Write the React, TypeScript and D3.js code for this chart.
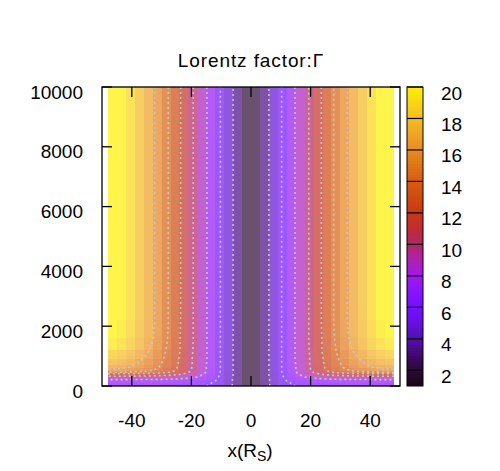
import React from 'react';
import * as d3 from 'd3';

// grid columns (x in R_S), half grid; the field is symmetric about x = 0
const X_HALF = [0, 3, 6, 9, 12, 15, 18, 21, 24, 27, 30, 33, 36, 39, 42, 45, 48];
// grid rows (height)
const Y_ROWS = [0, 100, 200, 300, 400, 450, 500, 600, 700, 900, 1200, 1600, 2200, 10000];
// Lorentz factor at each (row, half-column)
const GAMMA_ROWS = [
  [1.2, 2.6, 3.9, 4.9, 5.6, 6.0, 6.3, 6.4, 6.5, 6.5, 6.5, 6.6, 6.6, 6.6, 6.6, 6.6, 6.6],
  [1.2, 2.6, 3.9, 5.0, 5.8, 6.3, 6.6, 6.7, 6.8, 6.9, 6.9, 6.9, 7.0, 7.0, 7.0, 7.0, 7.0],
  [1.2, 2.6, 3.9, 5.1, 6.1, 6.7, 7.1, 7.3, 7.5, 7.6, 7.7, 7.7, 7.7, 7.7, 7.8, 7.8, 7.8],
  [1.2, 2.6, 4.0, 5.3, 6.4, 7.3, 8.0, 8.4, 8.8, 9.0, 9.1, 9.2, 9.3, 9.3, 9.4, 9.4, 9.4],
  [1.2, 2.6, 4.0, 5.35, 6.6, 7.7, 8.7, 9.5, 10.2, 10.7, 11.0, 11.25, 11.4, 11.5, 11.6, 11.7, 11.7],
  [1.2, 2.6, 4.0, 5.4, 6.7, 7.9, 9.0, 10.0, 11.0, 11.8, 12.4, 12.8, 13.1, 13.4, 13.6, 13.7, 13.8],
  [1.2, 2.6, 4.0, 5.4, 6.8, 8.0, 9.2, 10.3, 11.4, 12.4, 13.1, 13.8, 14.2, 14.6, 14.9, 15.1, 15.2],
  [1.2, 2.6, 4.0, 5.4, 6.8, 8.0, 9.3, 10.4, 11.7, 12.8, 13.7, 14.5, 15.1, 15.6, 16.0, 16.3, 16.4],
  [1.2, 2.6, 4.0, 5.4, 6.8, 8.0, 9.3, 10.5, 11.8, 13.0, 13.9, 14.8, 15.4, 16.0, 16.5, 16.8, 17.0],
  [1.2, 2.6, 4.0, 5.4, 6.8, 8.1, 9.3, 10.5, 11.9, 13.2, 14.2, 15.2, 15.9, 16.6, 17.2, 17.6, 17.9],
  [1.2, 2.6, 4.0, 5.4, 6.8, 8.1, 9.4, 10.6, 12.1, 13.5, 14.5, 15.7, 16.6, 17.5, 18.3, 18.9, 19.2],
  [1.2, 2.6, 4.0, 5.4, 6.8, 8.1, 9.4, 10.7, 12.1, 13.6, 14.8, 16.1, 17.1, 18.1, 19.0, 19.8, 20.2],
  [1.2, 2.6, 4.0, 5.4, 6.8, 8.1, 9.4, 10.7, 12.2, 13.7, 14.9, 16.3, 17.3, 18.4, 19.5, 20.4, 20.8],
  [1.2, 2.6, 4.0, 5.4, 6.8, 8.1, 9.4, 10.7, 12.2, 13.7, 14.9, 16.3, 17.4, 18.5, 19.6, 20.5, 21.0],
];
const CONTOUR_LEVELS = [4, 6, 8, 10, 12, 14, 16];
const X_TICKS = [-40, -20, 0, 20, 40];
const Y_TICKS = [0, 2000, 4000, 6000, 8000, 10000];
const CB_TICKS = [2, 4, 6, 8, 10, 12, 14, 16, 18, 20];
const PALETTE_STOPS = [1, 2, 3, 4, 5, 6, 7, 8, 9, 10, 11, 12, 13, 14, 15, 16, 17, 18, 19, 20];
const PALETTE_COLORS = [
  '#1a0514', '#2e0838', '#420870', '#560eb0', '#6610e0', '#7410ff', '#8a14ff', '#a01ae8',
  '#b020b0', '#b82468', '#c02c30', '#c83818', '#d04a10', '#d85c10', '#e07418', '#e88c20',
  '#f0a424', '#f5bc20', '#fad614', '#fff000',
];

const FONT = 'Liberation Sans, Arial, Helvetica, sans-serif';

const xs = [...X_HALF.slice(1).reverse().map((v) => -v), ...X_HALF];
const grid = GAMMA_ROWS.map((r) => [...r.slice(1).reverse(), ...r]);

function contourSegments(level: number) {
  const segs: number[][][] = [];
  for (let j = 0; j < Y_ROWS.length - 1; j++) {
    for (let i = 0; i < xs.length - 1; i++) {
      const c = [
        [xs[i], Y_ROWS[j], grid[j][i]],
        [xs[i + 1], Y_ROWS[j], grid[j][i + 1]],
        [xs[i + 1], Y_ROWS[j + 1], grid[j + 1][i + 1]],
        [xs[i], Y_ROWS[j + 1], grid[j + 1][i]],
      ];
      const pts: number[][] = [];
      for (let k = 0; k < 4; k++) {
        const a = c[k];
        const b = c[(k + 1) % 4];
        if ((a[2] >= level) !== (b[2] >= level)) {
          const t = (level - a[2]) / (b[2] - a[2]);
          pts.push([a[0] + t * (b[0] - a[0]), a[1] + t * (b[1] - a[1])]);
        }
      }
      if (pts.length === 2) segs.push([pts[0], pts[1]]);
      else if (pts.length === 4) {
        segs.push([pts[0], pts[1]]);
        segs.push([pts[2], pts[3]]);
      }
    }
  }
  return segs;
}

function chain(segs: number[][][]) {
  const used = new Array(segs.length).fill(false);
  const key = (p: number[]) => p[0].toFixed(4) + ',' + p[1].toFixed(4);
  const map = new Map<string, number[]>();
  segs.forEach((s, i) => {
    for (const p of s) {
      const k = key(p);
      if (!map.has(k)) map.set(k, []);
      map.get(k)!.push(i);
    }
  });
  const lines: number[][][] = [];
  for (let i = 0; i < segs.length; i++) {
    if (used[i]) continue;
    used[i] = true;
    const line = [segs[i][0], segs[i][1]];
    for (const dir of [0, 1]) {
      while (true) {
        const end = dir === 0 ? line[line.length - 1] : line[0];
        const cand = (map.get(key(end)) || []).find((k) => !used[k]);
        if (cand === undefined) break;
        used[cand] = true;
        const s = segs[cand];
        const next = key(s[0]) === key(end) ? s[1] : s[0];
        if (dir === 0) line.push(next);
        else line.unshift(next);
      }
    }
    lines.push(line);
  }
  return lines;
}

export default function App() {
  const x = d3.scaleLinear().domain([-50, 50]).range([102, 400]);
  const y = d3.scaleLinear().domain([0, 10000]).range([386, 87]);
  const cbY = d3.scaleLinear().domain([1, 20]).range([386, 87]);
  const color = d3
    .scaleLinear<string>()
    .domain(PALETTE_STOPS)
    .range(PALETTE_COLORS)
    .interpolate(d3.interpolateRgb)
    .clamp(true);

  const cells: JSX.Element[] = [];
  for (let j = 0; j < Y_ROWS.length - 1; j++) {
    for (let i = 0; i < xs.length - 1; i++) {
      const v = (grid[j][i] + grid[j][i + 1] + grid[j + 1][i] + grid[j + 1][i + 1]) / 4;
      const x0 = Math.round(x(xs[i]));
      const x1 = Math.round(x(xs[i + 1]));
      const y0 = Math.round(y(Y_ROWS[j + 1]));
      const y1 = Math.round(y(Y_ROWS[j]));
      cells.push(
        <rect key={`${i}-${j}`} x={x0} y={y0} width={x1 - x0} height={y1 - y0} fill={color(v)} />
      );
    }
  }

  const line = d3
    .line<number[]>()
    .x((p) => x(p[0]))
    .y((p) => y(p[1]));
  const contourPaths = CONTOUR_LEVELS.flatMap((L) =>
    chain(contourSegments(L)).map((ln, k) => (
      <path key={`${L}-${k}`} d={line(ln) || ''} fill="none" stroke="#c9c9c2" strokeWidth={1.6} strokeDasharray="2 3" />
    ))
  );

  const cbSteps = d3.range(1, 20, 0.1);
  const cbX = 407;
  const cbW = 16;

  return (
    <svg width={500} height={471} style={{ position: 'absolute', left: 0, top: 0, background: '#fff' }} fontFamily={FONT}>
      <rect x={0} y={0} width={500} height={471} fill="#fff" />
      <text x={251} y={67} textAnchor="middle" fontSize={19} letterSpacing={0.9}>
        Lorentz factor:Γ
      </text>
      <g opacity={0.7} shapeRendering="crispEdges">{cells}</g>
      <g>{contourPaths}</g>
      <rect x={102} y={87} width={298} height={299} fill="none" stroke="#000" strokeWidth={1.3} />
      {X_TICKS.map((t) => (
        <g key={`xt${t}`} stroke="#000" strokeWidth={1.3}>
          <line x1={x(t)} x2={x(t)} y1={386} y2={376} />
          <line x1={x(t)} x2={x(t)} y1={87} y2={97} />
        </g>
      ))}
      {Y_TICKS.map((t) => (
        <g key={`yt${t}`} stroke="#000" strokeWidth={1.3}>
          <line x1={102} x2={112} y1={y(t)} y2={y(t)} />
          <line x1={400} x2={390} y1={y(t)} y2={y(t)} />
        </g>
      ))}
      {X_TICKS.map((t) => (
        <text key={`xl${t}`} x={x(t)} y={427} textAnchor="middle" fontSize={19}>
          {t}
        </text>
      ))}
      {Y_TICKS.map((t) => (
        <text key={`yl${t}`} x={83} y={y(t) + 11.5} textAnchor="end" fontSize={19}>
          {t}
        </text>
      ))}
      <text x={250} y={457} textAnchor="middle" fontSize={19}>
        x(R<tspan fontSize={14} dy={4}>S</tspan>
        <tspan dy={-4}>)</tspan>
      </text>
      <g shapeRendering="crispEdges">
        {cbSteps.map((v) => {
          const y0 = Math.round(cbY(Math.min(20, v + 0.1)));
          const y1 = Math.round(cbY(v));
          return <rect key={`cb${v.toFixed(1)}`} x={cbX} y={y0} width={cbW} height={Math.max(1, y1 - y0)} fill={color(v + 0.05)} />;
        })}
      </g>
      {CB_TICKS.map((t) => (
        <line key={`cbt${t}`} x1={cbX} x2={cbX + cbW} y1={cbY(t)} y2={cbY(t)} stroke="#000" strokeWidth={1.2} />
      ))}
      <rect x={cbX} y={87} width={cbW} height={299} fill="none" stroke="#000" strokeWidth={1} />
      {CB_TICKS.map((t) => (
        <text key={`cbl${t}`} x={441} y={cbY(t) + 12.5} textAnchor="start" fontSize={19}>
          {t}
        </text>
      ))}
    </svg>
  );
}
